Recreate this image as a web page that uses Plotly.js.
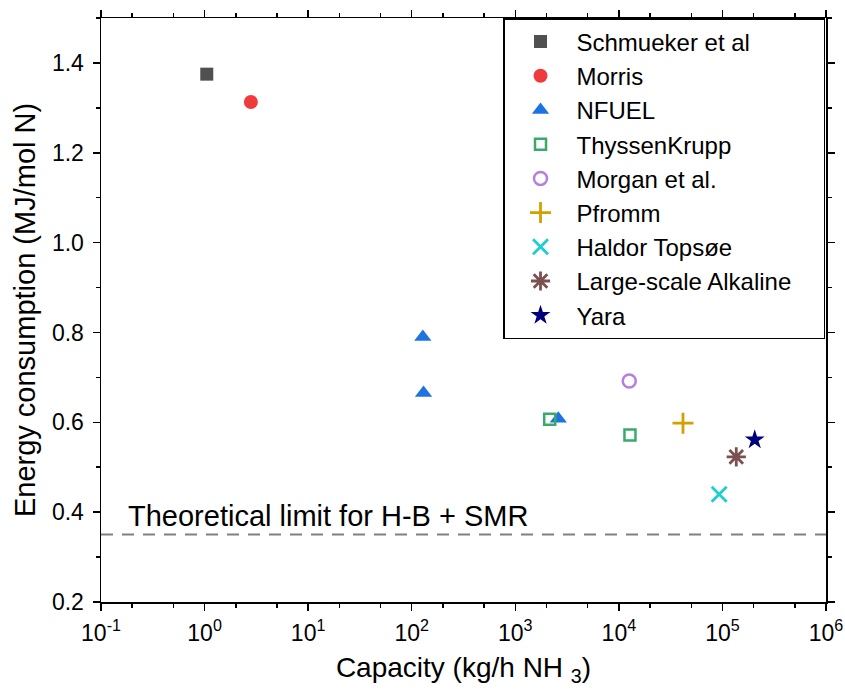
<!DOCTYPE html>
<html>
<head>
<meta charset="utf-8">
<script src="https://cdn.plot.ly/plotly-3.0.1.min.js"></script>
<style>html,body{margin:0;padding:0;background:#fff;}#chart{width:845px;height:697px;}</style>
</head>
<body>
<div id="chart"></div>
<script>
// Data
const seriesNames = ["Schmueker et al", "Morris", "NFUEL", "ThyssenKrupp", "Morgan et al.", "Pfromm", "Haldor Topsøe", "Large-scale Alkaline", "Yara"];
const schmuekerX = [1.05];   const schmuekerY = [1.375];
const morrisX = [2.8];       const morrisY = [1.313];
const nfuelX = [128, 130, 2600]; const nfuelY = [0.79, 0.665, 0.608];
const thyssenX = [2150, 12800];  const thyssenY = [0.607, 0.572];
const morganX = [12600];     const morganY = [0.692];
const pfrommX = [41600];     const pfrommY = [0.598];
const haldorX = [93000];     const haldorY = [0.44];
const alkalineX = [136000];  const alkalineY = [0.523];
const yaraX = [205000];      const yaraY = [0.561];
const theoreticalLimit = 0.35;
const limitLabel = "Theoretical limit for H-B + SMR";
const xTickVals = [0.1, 1, 10, 100, 1000, 10000, 100000, 1000000];
const xTickText = ["10<sup>-1</sup>", "10<sup>0</sup>", "10<sup>1</sup>", "10<sup>2</sup>", "10<sup>3</sup>", "10<sup>4</sup>", "10<sup>5</sup>", "10<sup>6</sup>"];

const FONT = "Liberation Sans, Arial, sans-serif";
const styles = [
  {symbol: "square", color: "#505050", size: 13},
  {symbol: "circle", color: "#ef3b3b", size: 14},
  {symbol: "triangle-up", color: "#1f73e0", size: 15},
  {symbol: "square-open", color: "#3aaa6a", size: 11, lw: 2.5},
  {symbol: "circle-open", color: "#b57fe0", size: 13, lw: 2.5},
  {symbol: "cross-thin-open", color: "#d4a000", size: 15, lw: 2.8},
  {symbol: "x-thin-open", color: "#1ecfcf", size: 15, lw: 2.8},
  {symbol: "asterisk-open", color: "#7a5050", size: 16, lw: 2.8},
  {symbol: "star", color: "#00007f", size: 15}
];
const xs = [schmuekerX, morrisX, nfuelX, thyssenX, morganX, pfrommX, haldorX, alkalineX, yaraX];
const ys = [schmuekerY, morrisY, nfuelY, thyssenY, morganY, pfrommY, haldorY, alkalineY, yaraY];

// trailing non-breaking spaces widen the legend box to the reference width
const legendPad = "\u00a0\u00a0\u00a0\u00a0";
const traces = seriesNames.map((n, i) => {
  const s = styles[i];
  const m = {symbol: s.symbol, color: s.color, size: s.size};
  if (s.lw) m.line = {color: s.color, width: s.lw};
  else m.line = {width: 0};
  return {x: xs[i], y: ys[i], name: n + legendPad, type: "scatter", mode: "markers", marker: m, legendgroup: "g" + i, cliponaxis: false};
});

const axisCommon = {
  showline: true, linecolor: "#000", linewidth: 1.5, mirror: "ticks",
  ticks: "outside", ticklen: 7, tickwidth: 1.5, tickcolor: "#000",
  showgrid: false, zeroline: false,
  tickfont: {family: FONT, size: 23, color: "#000"}
};

const layout = {
  width: 845, height: 697,
  margin: {l: 101, r: 19, t: 18, b: 95},
  paper_bgcolor: "#fff", plot_bgcolor: "#fff",
  font: {family: FONT, color: "#000"},
  xaxis: Object.assign({}, axisCommon, {
    type: "log", range: [-1, 6], tickvals: xTickVals, ticktext: xTickText,
    ticklabelstandoff: 3,
    minor: {ticks: "outside", ticklen: 4, tickwidth: 1.5, tickcolor: "#000", showgrid: false},
    title: {text: "Capacity (kg/h NH <sub>3</sub>)", font: {family: FONT, size: 28}, standoff: 12}
  }),
  yaxis: Object.assign({}, axisCommon, {
    range: [0.2, 1.5], dtick: 0.2, tick0: 0.2, tickformat: ".1f",
    ticklabelstandoff: 4,
    minor: {dtick: 0.1, ticks: "outside", ticklen: 4, tickwidth: 1.5, tickcolor: "#000", showgrid: false},
    title: {text: "Energy consumption (MJ/mol N)", font: {family: FONT, size: 29}, standoff: 8}
  }),
  showlegend: true,
  legend: {
    x: 0.5545, y: 1, xanchor: "left", yanchor: "top",
    bordercolor: "#000", borderwidth: 1.5, bgcolor: "#fff",
    font: {family: FONT, size: 24}, traceorder: "grouped", tracegroupgap: 0,
    itemwidth: 62
  },
  shapes: [{
    type: "line", xref: "paper", x0: 0, x1: 1, yref: "y", y0: theoreticalLimit, y1: theoreticalLimit,
    line: {color: "#808080", width: 2, dash: "12px,9px"}, layer: "below"
  }],
  annotations: [{
    text: limitLabel, xref: "paper", x: 0.034, yref: "y", y: theoreticalLimit + 0.041,
    xanchor: "left", yanchor: "middle", showarrow: false,
    font: {family: FONT, size: 29, color: "#000"}
  }]
};

Plotly.newPlot("chart", traces, layout, {displayModeBar: false, staticPlot: true});
</script>
</body>
</html>
